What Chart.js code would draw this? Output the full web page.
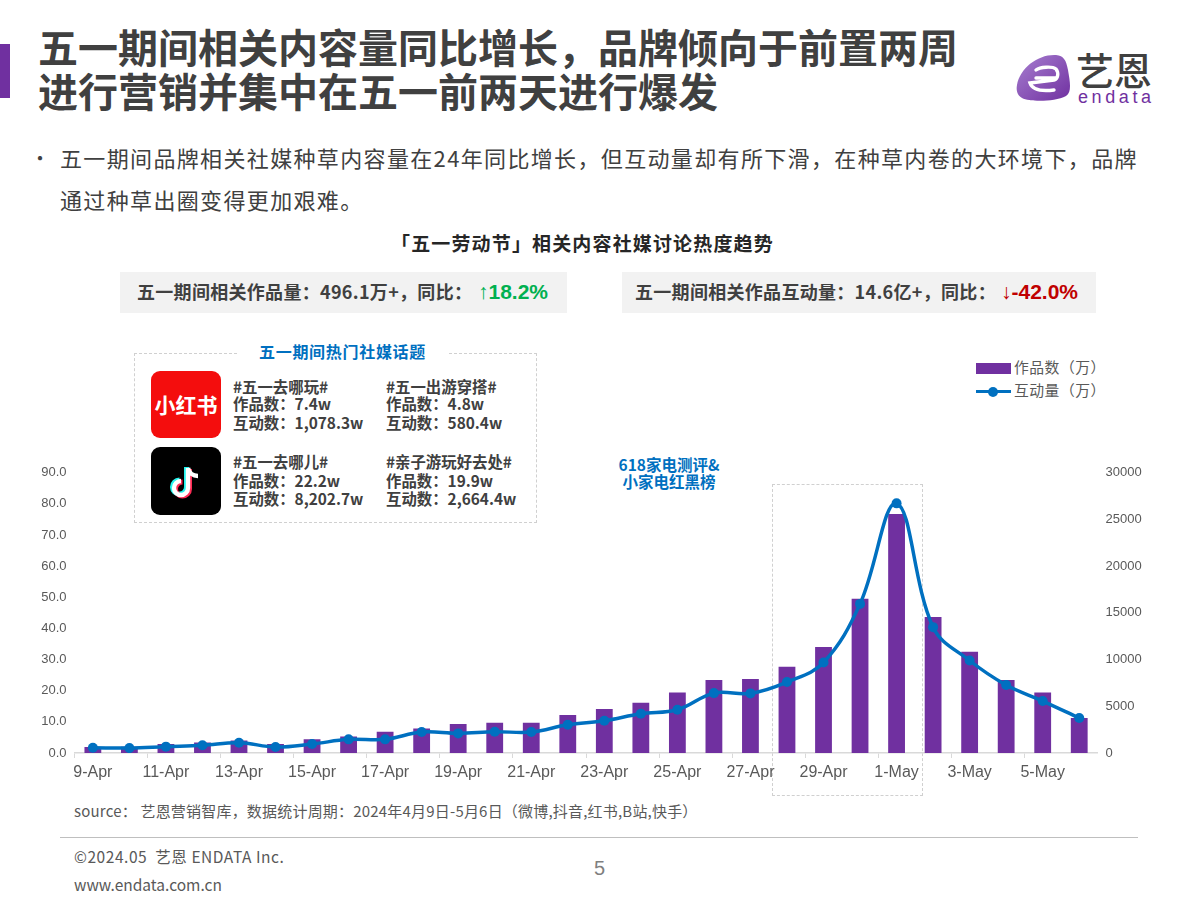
<!DOCTYPE html>
<html lang="zh-CN">
<head>
<meta charset="utf-8">
<title>五一期间相关内容量</title>
<script src="https://cdn.jsdelivr.net/npm/chart.js@4"></script>
<style>
html,body{margin:0;padding:0;background:#fff;}
body{width:1200px;height:900px;position:relative;overflow:hidden;font-family:"Noto Sans CJK SC","Liberation Sans",sans-serif;color:#404040;}
.t{position:absolute;white-space:nowrap;line-height:1;}
.b{font-weight:700;}
.k{font-size:15.4px;font-weight:700;color:#404040;}
#c{position:absolute;left:0;top:0;z-index:1;}
.box{position:absolute;}
</style>
</head>
<body>
<div class="box" style="left:0;top:44px;width:10px;height:54px;background:#7030A0"></div>
<div class="t b" style="left:38px;top:26px;font-size:40px;color:#404040">五一期间相关内容量同比增长，品牌倾向于前置两周</div>
<div class="t b" style="left:38px;top:70px;font-size:40px;color:#404040">进行营销并集中在五一前两天进行爆发</div>

<svg class="box" style="left:1014px;top:52px" width="60" height="52" viewBox="0 0 60 52">
<defs><linearGradient id="g" x1="0" y1="0" x2="1" y2="1"><stop offset="0" stop-color="#a77fd0"/><stop offset="1" stop-color="#7030A0"/></linearGradient></defs>
<path d="M3 33 C6 16 24 2 42 3 C50 4 52 8 54 18 C56 30 58 40 52 44 C40 50 16 50 8 46 C3 43 2 38 3 33Z" fill="url(#g)"/>
<path d="M42 26 L22 26 M22 18 C26 15 38 14 42 17 C45 21 44 27 40 28 L16 31 C18 37 24 40 40 38" fill="none" stroke="#fff" stroke-width="3.4" stroke-linecap="round"/>
</svg>
<div class="t" style="left:1076px;top:50px;font-size:38px;color:#404040;font-weight:500">艺恩</div>
<div class="t" style="left:1078px;top:88px;font-size:18px;color:#7030A0;letter-spacing:3.6px;font-family:'Liberation Sans'">endata</div>

<div class="t" style="left:30px;top:148px;font-size:20px;color:#404040">•</div>
<div class="t" style="left:60px;top:146px;font-size:22px;color:#404040;letter-spacing:1.35px">五一期间品牌相关社媒种草内容量在24年同比增长，但互动量却有所下滑，在种草内卷的大环境下，品牌</div>
<div class="t" style="left:60px;top:188px;font-size:22px;color:#404040;letter-spacing:1.35px">通过种草出圈变得更加艰难。</div>

<div class="t b" style="left:391px;top:233px;font-size:19px;color:#262626;letter-spacing:1.15px">「五一劳动节」相关内容社媒讨论热度趋势</div>

<div class="box" style="left:120px;top:272px;width:447px;height:41px;background:#f2f2f2"></div>
<div class="t b" style="left:137px;top:282px;font-size:18px;letter-spacing:.3px;color:#404040">五一期间相关作品量：496.1万+，同比：</div>
<div class="t b" style="left:478px;top:281px;font-size:21px;color:#00B050;font-family:'Liberation Sans','Noto Sans CJK SC'">↑18.2%</div>
<div class="box" style="left:622px;top:272px;width:474px;height:41px;background:#f2f2f2"></div>
<div class="t b" style="left:635px;top:282px;font-size:18px;letter-spacing:.3px;color:#404040">五一期间相关作品互动量：14.6亿+，同比：</div>
<div class="t b" style="left:1001px;top:281px;font-size:21px;color:#C00000;font-family:'Liberation Sans','Noto Sans CJK SC'">↓-42.0%</div>

<div class="box" style="left:134px;top:353px;width:401px;height:168px;border:1px dashed #d0d0d0"></div>
<div class="t b" style="left:238px;top:343px;font-size:16px;color:#0070C0;background:#fff;padding:0 21px;letter-spacing:.7px">五一期间热门社媒话题</div>

<div class="box" style="left:151px;top:371px;width:70px;height:67px;border-radius:9px;background:#F40D0D;color:#fff;font-weight:700;font-size:21px;line-height:67px;text-align:center;white-space:nowrap">小红书</div>
<div class="box" style="left:151px;top:447px;width:70px;height:68px;border-radius:9px;background:#000"></div>
<svg class="box" style="left:166px;top:462px" width="40" height="40" viewBox="0 0 40 40">
<path d="M22 6 V26 A7 7 0 1 1 15 19" fill="none" stroke="#25F4EE" stroke-width="5" transform="translate(-1.5,-1)"/>
<path d="M22 6 V26 A7 7 0 1 1 15 19" fill="none" stroke="#FE2C55" stroke-width="5" transform="translate(1.5,1)"/>
<path d="M22 6 V26 A7 7 0 1 1 15 19 M22 6 C23 11 27 14 32 14" fill="none" stroke="#fff" stroke-width="4.4"/>
</svg>

<div class="t k" style="left:233px;top:379px">#五一去哪玩#</div>
<div class="t k" style="left:233px;top:396px">作品数：7.4w</div>
<div class="t k" style="left:233px;top:415px">互动数：1,078.3w</div>
<div class="t k" style="left:386px;top:379px">#五一出游穿搭#</div>
<div class="t k" style="left:386px;top:396px">作品数：4.8w</div>
<div class="t k" style="left:386px;top:415px">互动数：580.4w</div>
<div class="t k" style="left:233px;top:454px">#五一去哪儿#</div>
<div class="t k" style="left:233px;top:473px">作品数：22.2w</div>
<div class="t k" style="left:233px;top:491px">互动数：8,202.7w</div>
<div class="t k" style="left:386px;top:454px">#亲子游玩好去处#</div>
<div class="t k" style="left:386px;top:473px">作品数：19.9w</div>
<div class="t k" style="left:386px;top:491px">互动数：2,664.4w</div>

<div class="t b" style="left:569px;width:200px;text-align:center;top:457px;font-size:15.5px;color:#0070C0">618家电测评&amp;</div>
<div class="t b" style="left:569px;width:200px;text-align:center;top:474px;font-size:15.5px;color:#0070C0">小家电红黑榜</div>

<div class="box" style="left:772px;top:484px;width:149px;height:310px;border:1px dashed #d0d0d0"></div>

<div class="box" style="left:976px;top:363px;width:35px;height:11px;background:#7030A0"></div>
<div class="t" style="left:1014px;top:360px;font-size:14.8px;letter-spacing:.5px;color:#595959">作品数（万）</div>
<div class="box" style="left:976px;top:390px;width:35px;height:3px;background:#0070C0"></div>
<div class="box" style="left:988px;top:386.5px;width:10px;height:10px;border-radius:50%;background:#0070C0"></div>
<div class="t" style="left:1014px;top:383px;font-size:14.8px;letter-spacing:.5px;color:#595959">互动量（万）</div>

<canvas id="c" width="1200" height="900"></canvas>

<div class="t" style="left:74px;top:803px;font-size:15px;letter-spacing:.2px;color:#595959">source： 艺恩营销智库，数据统计周期：2024年4月9日-5月6日（微博,抖音,红书,B站,快手）</div>
<div class="box" style="left:60px;top:837px;width:1078px;height:1px;background:#bfbfbf"></div>
<div class="t" style="left:74px;top:849px;font-size:15.5px;letter-spacing:.55px;color:#595959">©2024.05&nbsp;&nbsp;艺恩 ENDATA Inc.</div>
<div class="t" style="left:74px;top:877px;font-size:15.5px;color:#595959">www.endata.com.cn</div>
<div class="t" style="left:594px;top:858px;font-size:20px;color:#7f7f7f;font-family:'Liberation Sans'">5</div>

<script>
const categories = ["9-Apr","10-Apr","11-Apr","12-Apr","13-Apr","14-Apr","15-Apr","16-Apr","17-Apr","18-Apr","19-Apr","20-Apr","21-Apr","22-Apr","23-Apr","24-Apr","25-Apr","26-Apr","27-Apr","28-Apr","29-Apr","30-Apr","1-May","2-May","3-May","4-May","5-May","6-May"];
const worksWan = [1.9,2.0,2.9,3.4,4.0,2.9,4.4,5.3,6.8,7.9,9.3,9.7,9.7,12.2,14.1,16.1,19.4,23.4,23.8,27.7,34.0,49.5,76.7,43.7,32.5,23.4,19.4,11.2];
const interactionsWan = [570,530,680,820,1100,640,960,1460,1460,2240,2100,2280,2240,3030,3450,4200,4630,6410,6380,7590,9690,15960,26720,13470,9900,7270,5560,3740];
const leftMax = 90, rightMax = 30000, leftStep = 10, rightStep = 5000;

new Chart(document.getElementById('c'), {
  data: {
    labels: categories,
    datasets: [
      {type:'line', label:'互动量（万）', data:interactionsWan, yAxisID:'y2', borderColor:'#0070C0', backgroundColor:'#0070C0',
       borderWidth:3.5, pointRadius:5, pointBackgroundColor:'#0070C0', pointBorderWidth:0, tension:0.38, order:1},
      {type:'bar', label:'作品数（万）', data:worksWan, yAxisID:'y', backgroundColor:'#7030A0', barPercentage:0.46, categoryPercentage:1, order:2}
    ]
  },
  options: {
    responsive:false, animation:false, devicePixelRatio:1,
    layout:{padding:{left:24.6,right:52.5,top:472.7,bottom:112}},
    plugins:{legend:{display:false},tooltip:{enabled:false}},
    scales:{
      x:{
        offset:true,
        afterFit:s=>{s.height=35;},
        border:{color:'#d9d9d9',width:1.5},
        grid:{offset:true,drawOnChartArea:false,tickLength:5,
              tickColor:ctx=>ctx.index%2===0?'#d9d9d9':'rgba(0,0,0,0)'},
        ticks:{autoSkip:false,maxRotation:0,minRotation:0,color:'#595959',padding:5,
               font:{size:16,family:'"Liberation Sans"'},
               callback:function(v,i){return i%2===0?this.getLabelForValue(v):'';}}
      },
      y:{
        position:'left',min:0,max:leftMax,
        afterFit:s=>{s.width=50;},
        border:{display:false},
        grid:{display:false,drawTicks:false},
        ticks:{stepSize:leftStep,padding:8,color:'#595959',font:{size:13,family:'"Liberation Sans"'},
               callback:v=>Number(v).toFixed(1)}
      },
      y2:{
        position:'right',min:0,max:rightMax,
        afterFit:s=>{s.width=50;},
        border:{display:false},
        grid:{display:false,drawTicks:false},
        ticks:{stepSize:rightStep,padding:8,color:'#595959',font:{size:13,family:'"Liberation Sans"'},
               callback:v=>String(v)}
      }
    }
  }
});
</script>
</body>
</html>
